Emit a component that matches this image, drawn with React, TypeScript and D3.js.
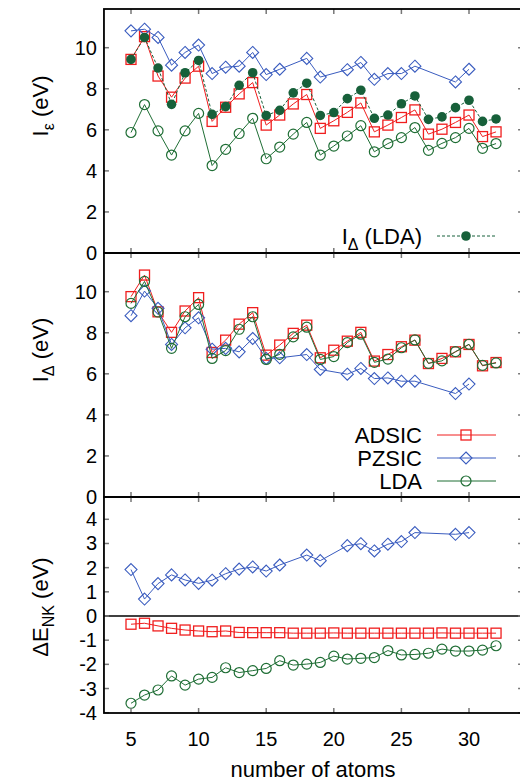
import React from "react";
import * as d3 from "d3";

// ---------- data ----------
const atoms = [5,6,7,8,9,10,11,12,13,14,15,16,17,18,19,20,21,22,23,24,25,26,27,28,29,30,31,32];
const pzAtoms = [5,6,7,8,9,10,11,12,13,14,15,16,18,19,21,22,23,24,25,26,29,30];

// Top panel: I_epsilon
const ieADSIC = [9.43,10.54,8.62,7.59,8.52,9.10,6.41,7.10,7.75,8.30,6.23,6.72,7.26,7.72,6.07,6.44,6.85,7.31,5.90,6.23,6.60,6.97,5.79,6.03,6.36,6.72,5.67,5.90];
const iePZSIC = [10.82,10.90,10.50,9.15,9.77,10.13,8.74,9.05,9.10,9.77,8.69,8.95,9.48,8.57,8.93,9.28,8.46,8.74,8.74,9.10,8.33,8.95];
const ieLDA = [5.87,7.23,5.95,4.77,5.95,6.80,4.26,5.05,5.82,6.56,4.59,5.16,5.79,6.36,4.77,5.21,5.70,6.20,4.93,5.33,5.62,6.11,5.00,5.34,5.62,6.07,5.10,5.33];

// Middle panel: I_Delta
const idADSIC = [9.76,10.81,9.02,8.02,9.06,9.71,7.04,7.64,8.42,8.98,6.91,7.40,7.97,8.37,6.78,7.15,7.59,8.02,6.62,6.94,7.32,7.64,6.50,6.75,7.07,7.43,6.39,6.55];
const idPZSIC = [8.83,10.03,9.19,7.43,8.24,8.73,7.20,7.24,7.07,7.72,6.75,6.78,6.94,6.21,5.98,6.26,5.77,5.80,5.64,5.64,5.04,5.50];
const idLDA = [9.43,10.50,9.01,7.24,8.78,9.38,6.75,7.13,8.17,8.78,6.70,6.95,7.80,8.27,6.70,6.84,7.52,7.93,6.56,6.72,7.27,7.65,6.51,6.63,7.08,7.44,6.41,6.53];

// Bottom panel: Delta E_NK
const deADSIC = [-0.34,-0.30,-0.41,-0.51,-0.58,-0.62,-0.65,-0.62,-0.68,-0.69,-0.69,-0.69,-0.71,-0.71,-0.71,-0.70,-0.71,-0.71,-0.71,-0.71,-0.71,-0.71,-0.71,-0.70,-0.71,-0.71,-0.71,-0.71];
const dePZSIC = [1.92,0.70,1.34,1.70,1.49,1.35,1.48,1.75,1.94,2.03,1.86,2.11,2.52,2.29,2.91,2.99,2.69,2.97,3.08,3.45,3.38,3.45];
const deLDA = [-3.61,-3.27,-3.06,-2.48,-2.86,-2.61,-2.54,-2.14,-2.34,-2.26,-2.17,-1.85,-2.03,-1.99,-1.92,-1.66,-1.78,-1.75,-1.72,-1.43,-1.61,-1.59,-1.54,-1.37,-1.45,-1.45,-1.41,-1.23];

const xTicks = [5,10,15,20,25,30];
const yTicksI = [0,2,4,6,8,10];
const yTicksDE = [-4,-3,-2,-1,0,1,2,3,4];

// ---------- style ----------
const RED = "#f01e1e";
const BLUE = "#3a5cbf";
const GREEN = "#1f6e35";
const DKGREEN = "#17603a";
const FONT = "'Liberation Sans', Arial, Helvetica, sans-serif";
const FS = 20;   // tick labels
const FT = 22;   // titles, legend
const FSUB = 16;

const W = 520, H = 782;
const x = d3.scaleLinear().domain([5, 30]).range([131, 469]);
const X0 = x(3), X1 = x(34);

type Panel = { top: number; bottom: number; y: d3.ScaleLinear<number, number>; ticks: number[] };
const pTop: Panel = { top: 9, bottom: 253, y: d3.scaleLinear().domain([0, 10]).range([253, 47.7]), ticks: yTicksI };
const pMid: Panel = { top: 253, bottom: 497, y: d3.scaleLinear().domain([0, 10]).range([497, 291.7]), ticks: yTicksI };
const pBot: Panel = { top: 497, bottom: 713, y: d3.scaleLinear().domain([0, 4]).range([616, 519.3]), ticks: yTicksDE };

function Square({ cx, cy }: { cx: number; cy: number }) {
  return <rect x={cx - 5} y={cy - 5} width={10} height={10} fill="none" stroke={RED} strokeWidth={1.3} />;
}
function Diamond({ cx, cy }: { cx: number; cy: number }) {
  const r = 6;
  return <path d={`M${cx},${cy - r}L${cx + r},${cy}L${cx},${cy + r}L${cx - r},${cy}Z`} fill="none" stroke={BLUE} strokeWidth={1.1} />;
}
function OCircle({ cx, cy }: { cx: number; cy: number }) {
  return <circle cx={cx} cy={cy} r={5} fill="none" stroke={GREEN} strokeWidth={1.2} />;
}
function FCircle({ cx, cy }: { cx: number; cy: number }) {
  return <circle cx={cx} cy={cy} r={4.8} fill={DKGREEN} />;
}

function Series({ xs, ys, p, color, marker, dash }: { xs: number[]; ys: number[]; p: Panel; color: string; marker: string; dash?: string }) {
  const line = d3.line<number>().x((_, i) => x(xs[i])).y((v) => p.y(v));
  const M = marker === "sq" ? Square : marker === "di" ? Diamond : marker === "oc" ? OCircle : FCircle;
  return (
    <g>
      <path d={line(ys) || ""} fill="none" stroke={color} strokeWidth={1} strokeDasharray={dash} />
      {ys.map((v, i) => (
        <M key={i} cx={x(xs[i])} cy={p.y(v)} />
      ))}
    </g>
  );
}

function Frame({ p, xLabels }: { p: Panel; xLabels: boolean }) {
  const tl = 5;
  return (
    <g>
      {xTicks.map((t) => (
        <g key={"x" + t}>
          <line x1={x(t)} x2={x(t)} y1={p.bottom} y2={p.bottom - tl} stroke="#777" strokeWidth={1.5} />
          <line x1={x(t)} x2={x(t)} y1={p.top} y2={p.top + tl} stroke="#777" strokeWidth={1.5} />
          {xLabels && (
            <text x={x(t)} y={745.5} textAnchor="middle" fontSize={FS} fontFamily={FONT}>{t}</text>
          )}
        </g>
      ))}
      {p.ticks.map((t) => (
        <g key={"y" + t}>
          <line x1={X0} x2={X0 + tl} y1={p.y(t)} y2={p.y(t)} stroke="#777" strokeWidth={1.5} />
          <line x1={X1} x2={X1 - tl} y1={p.y(t)} y2={p.y(t)} stroke="#777" strokeWidth={1.5} />
          <text x={97} y={p.y(t) + 7} textAnchor="end" fontSize={FS} fontFamily={FONT}>{t}</text>
        </g>
      ))}
      <rect x={X0} y={p.top} width={X1 - X0} height={p.bottom - p.top} fill="none" stroke="#000" strokeWidth={1.8} />
    </g>
  );
}

function LegendRow({ y, label, color, marker, dash, sub }: { y: number; label: string; color: string; marker: string; dash?: string; sub?: React.ReactNode }) {
  const M = marker === "sq" ? Square : marker === "di" ? Diamond : marker === "oc" ? OCircle : FCircle;
  return (
    <g>
      <text x={422} y={y + 8} textAnchor="end" fontSize={FT} fontFamily={FONT}>{sub ?? label}</text>
      <line x1={437} x2={496} y1={y} y2={y} stroke={color} strokeWidth={1} strokeDasharray={dash} />
      <M cx={466} cy={y} />
    </g>
  );
}

export default function App() {
  return (
    <svg width={W} height={H} style={{ position: "absolute", left: 0, top: 0, background: "#fff" }}>
      <rect width={W} height={H} fill="#fff" />
      {/* Top panel */}
      <Series xs={atoms} ys={ieADSIC} p={pTop} color={RED} marker="sq" />
      <Series xs={pzAtoms} ys={iePZSIC} p={pTop} color={BLUE} marker="di" />
      <Series xs={atoms} ys={ieLDA} p={pTop} color={GREEN} marker="oc" />
      <Series xs={atoms} ys={idLDA} p={pTop} color={DKGREEN} marker="fc" dash="3,2" />
      <LegendRow y={236} label="" color={DKGREEN} marker="fc" dash="3,2"
        sub={<><tspan>I</tspan><tspan dy={6} fontSize={FSUB}>Δ</tspan><tspan dy={-6}> (LDA)</tspan></>} />
      <Frame p={pTop} xLabels={false} />

      {/* Middle panel */}
      <Series xs={atoms} ys={idADSIC} p={pMid} color={RED} marker="sq" />
      <Series xs={pzAtoms} ys={idPZSIC} p={pMid} color={BLUE} marker="di" />
      <Series xs={atoms} ys={idLDA} p={pMid} color={GREEN} marker="oc" />
      <LegendRow y={435} label="ADSIC" color={RED} marker="sq" />
      <LegendRow y={458} label="PZSIC" color={BLUE} marker="di" />
      <LegendRow y={481} label="LDA" color={GREEN} marker="oc" />
      <Frame p={pMid} xLabels={false} />

      {/* Bottom panel */}
      <line x1={X0} x2={X1} y1={pBot.y(0)} y2={pBot.y(0)} stroke="#000" strokeWidth={1.3} />
      <Series xs={atoms} ys={deADSIC} p={pBot} color={RED} marker="sq" />
      <Series xs={pzAtoms} ys={dePZSIC} p={pBot} color={BLUE} marker="di" />
      <Series xs={atoms} ys={deLDA} p={pBot} color={GREEN} marker="oc" />
      <Frame p={pBot} xLabels={true} />

      {/* Axis titles */}
      <text transform="translate(48,106) rotate(-90)" textAnchor="middle" fontSize={FT} fontFamily={FONT}>
        <tspan>I</tspan><tspan dy={6} fontSize={FSUB}>ε</tspan><tspan dy={-6}> (eV)</tspan>
      </text>
      <text transform="translate(48,350) rotate(-90)" textAnchor="middle" fontSize={FT} fontFamily={FONT}>
        <tspan>I</tspan><tspan dy={6} fontSize={FSUB}>Δ</tspan><tspan dy={-6}> (eV)</tspan>
      </text>
      <text transform="translate(48,607) rotate(-90)" textAnchor="middle" fontSize={FT} fontFamily={FONT}>
        <tspan>ΔE</tspan><tspan dy={6} fontSize={FSUB}>NK</tspan><tspan dy={-6}> (eV)</tspan>
      </text>
      <text x={313} y={777} textAnchor="middle" fontSize={FT} fontFamily={FONT}>number of atoms</text>
    </svg>
  );
}
